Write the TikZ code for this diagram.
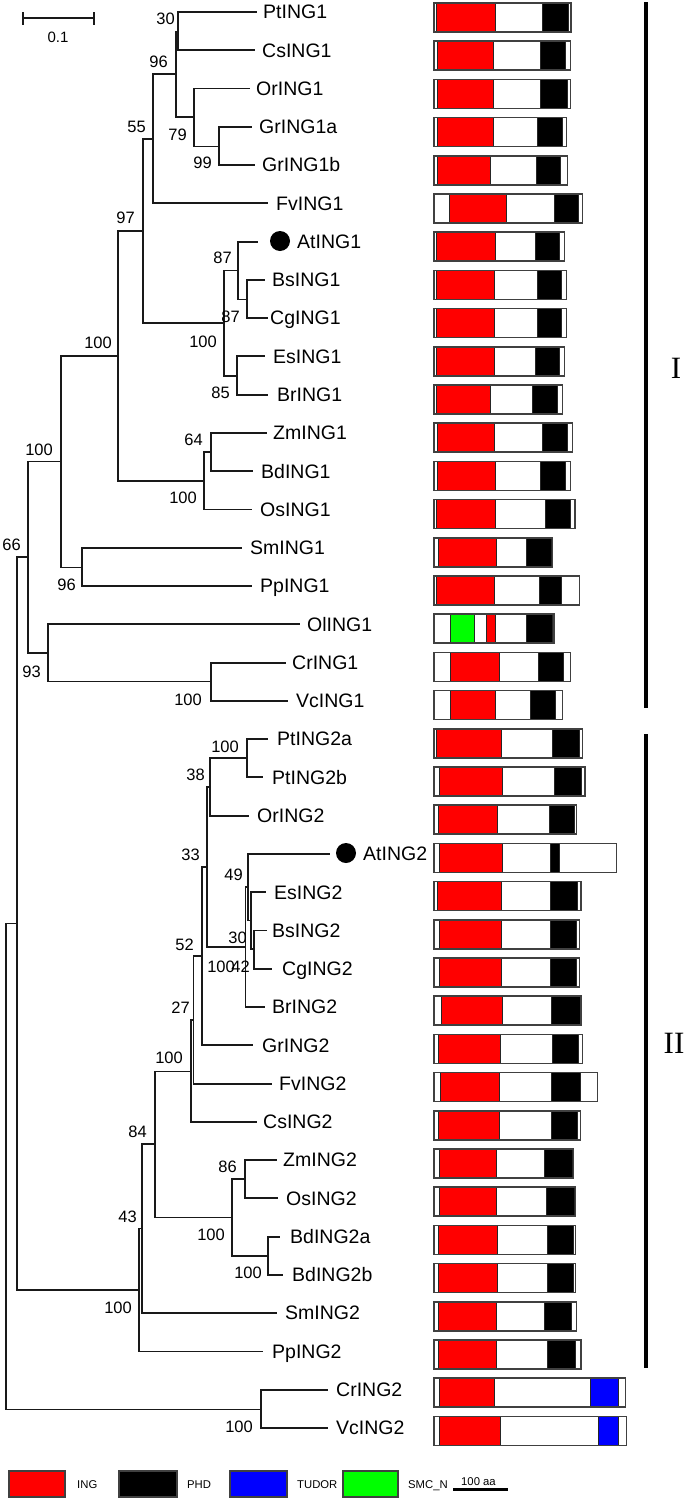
\documentclass[tikz,border=0pt]{standalone}
\usepackage{fontspec}
\setmainfont{Liberation Sans}
\newfontfamily\serifroman{Liberation Serif}
\definecolor{boxline}{gray}{0.25}
\definecolor{segline}{gray}{0.15}
\newcommand{\dbox}[3]{%
  \pgfmathsetmacro\dbyc{17.5+38.2*(#1-1)}%
  \foreach \a/\b/\c in {#3}{\filldraw[fill=\c, draw=segline, line width=0.7pt] (\a,\dbyc-14.5) rectangle (\b,\dbyc+14.5);}%
  \draw[draw=boxline, line width=1.5pt] (434,\dbyc-14.5) rectangle (#2,\dbyc+14.5);%
}
\begin{document}
\begin{tikzpicture}[x=1pt,y=-1pt,
  tree/.style={line width=1.9pt, draw=black!90, line join=miter},
  leaf/.style={anchor=base west, inner sep=0pt, font=\fontsize{19.5}{20}\selectfont},
  bs/.style={anchor=base east, inner sep=0pt, font=\fontsize{16.5}{17}\selectfont},
  legtext/.style={anchor=base west, inner sep=0pt, font=\fontsize{11.3}{12}\selectfont},
  dot/.style={circle, fill=black, minimum size=20pt, inner sep=0pt},
  grp/.style={anchor=base, inner sep=0pt, font=\serifroman\fontsize{31}{32}\selectfont}]
\useasboundingbox (0,0) rectangle (685,1502);
\fill[white] (0,0) rectangle (685,1502);

% leaves
\foreach \i/\tx/\lx/\nm in {
 1/257/263/PtING1, 2/255/262/CsING1, 3/250/256/OrING1, 4/252/259/GrING1a,
 5/255/262/GrING1b, 6/268/276/FvING1, 7/258/297/AtING1, 8/265/272/BsING1,
 9/268/270/CgING1, 10/265/273/EsING1, 11/268/277/BrING1, 12/267/273/ZmING1,
 13/253/261/BdING1, 14/252/260/OsING1, 15/242/250/SmING1, 16/252/260/PpING1,
 17/300/307/OlING1, 18/286/292/CrING1, 19/288/296/VcING1, 20/268/277/PtING2a,
 21/263/272/PtING2b, 22/249/257/OrING2, 23/330/363/AtING2, 24/266/274/EsING2,
 25/267/272/BsING2, 26/272/282/CgING2, 27/265/272/BrING2, 28/253/262/GrING2,
 29/272/279/FvING2, 30/257/263/CsING2, 31/277/283/ZmING2, 32/278/286/OsING2,
 33/280/290/BdING2a, 34/283/292/BdING2b, 35/277/285/SmING2, 36/263/272/PpING2,
 37/328/336/CrING2, 38/328/336/VcING2}{
  \pgfmathsetmacro\ty{12+38.27*(\i-1)}
  \coordinate (t\i) at (\tx,\ty);
  \node[leaf] (l\i) at (\lx,\ty+6.8) {\nm};
}
\node[dot] (d1) at (280,241) {};
\node[dot] (d2) at (346,853) {};

% internal nodes, group I
\coordinate (n30) at (178,31.5);
\coordinate (n96) at (176,74);
\coordinate (n79) at (194,117);
\coordinate (n99) at (219,146.5);
\coordinate (n55) at (153,139);
\coordinate (n87a) at (238,270.5);
\coordinate (n87b) at (247,299.5);
\coordinate (n85) at (237,376);
\coordinate (n100a) at (224,323);
\coordinate (n97) at (143,231);
\coordinate (n64) at (211,452);
\coordinate (n100b) at (204,481);
\coordinate (n100c) at (118,356);
\coordinate (n96b) at (82,567.5);
\coordinate (n100d) at (61,461.5);
\coordinate (n100e) at (211,681.5);
\coordinate (n93) at (48,653);
\coordinate (n66) at (28,557);
\coordinate (nR1) at (17,923.5);
% group II
\coordinate (n100f) at (247,758);
\coordinate (n38) at (210,787);
\coordinate (n49) at (248,887);
\coordinate (nB) at (250.7,920.5);
\coordinate (nC) at (254,949);
\coordinate (n100g) at (245.5,947);
\coordinate (n33) at (207,867);
\coordinate (n52) at (202,956);
\coordinate (n27) at (193.5,1020);
\coordinate (n100h) at (191,1071.5);
\coordinate (n86) at (245,1179);
\coordinate (n100i) at (268,1256);
\coordinate (n100j) at (232,1217.5);
\coordinate (n84) at (155,1144);
\coordinate (n43) at (142,1228.5);
\coordinate (n100k) at (139,1290);
\coordinate (n100l) at (261,1409.5);
\coordinate (root) at (6,1166.5);

% branches
\foreach \p/\c in {n30/t1, n30/t2, n96/n30, n96/n79, n79/t3, n79/n99, n99/t4, n99/t5,
  n55/n96, n55/t6, n87a/t7, n87a/n87b, n87b/t8, n87b/t9, n85/t10, n85/t11,
  n100a/n87a, n100a/n85, n97/n55, n97/n100a, n64/t12, n64/t13, n100b/n64, n100b/t14,
  n100c/n97, n100c/n100b, n96b/t15, n96b/t16, n100d/n100c, n100d/n96b,
  n100e/t18, n100e/t19, n93/t17, n93/n100e, n66/n100d, n66/n93, nR1/n66, nR1/n100k,
  n100f/t20, n100f/t21, n38/n100f, n38/t22, n49/t23, n49/nB, nB/t24, nB/nC,
  nC/t25, nC/t26, n100g/n49, n100g/t27, n33/n38, n33/n100g, n52/n33, n52/t28,
  n27/n52, n27/t29, n100h/n27, n100h/t30, n86/t31, n86/t32, n100i/t33, n100i/t34,
  n100j/n86, n100j/n100i, n84/n100h, n84/n100j, n43/n84, n43/t35, n100k/n43, n100k/t36,
  n100l/t37, n100l/t38, root/nR1, root/n100l}{
  \draw[tree] (\p) |- (\c);
}

% bootstrap values
\foreach \x/\y/\t [count=\k] in {175/24/30, 168/67/96, 187/140/79, 212/168/99, 146/132/55,
  135/223/97, 232/263/87, 240/322/87, 217/347/100, 230/398/85, 112/348/100, 203/445/64,
  197/503/100, 53/455/100, 76/590/96, 21/550/66, 41/677/93, 202/705/100,
  239/752/100, 205/780/38, 200/860/33, 243/880/49, 247/943/30, 235/972/100, 250/972/42,
  194/950/52, 190/1013/27, 183/1063/100, 147/1137/84, 237/1172/86, 225/1240/100,
  262/1278/100, 137/1222/43, 132/1313/100, 253/1432/100}{
  \node[bs] (b\k) at (\x,\y) {\t};
}

% scale bar
\draw[tree] (23,18) -- (94,18);
\draw[tree] (23,12) -- (23,25);
\draw[tree] (94,12) -- (94,25);
\node[anchor=base, inner sep=0pt, font=\fontsize{15}{16}\selectfont] (sbl) at (58,42) {0.1};

% domain boxes
\dbox{1}{571}{436.7/495.7/red, 542.3/568.3/black}
\dbox{2}{570.7}{437.3/493.3/red, 540.7/565.3/black}
\dbox{3}{570.7}{437.3/493.3/red, 540.7/567/black}
\dbox{4}{566.7}{437.3/493.3/red, 537.3/562.3/black}
\dbox{5}{567.3}{437.3/490.7/red, 536/560/black}
\dbox{6}{582.7}{449/506.7/red, 554/578/black}
\dbox{7}{564.7}{436.7/495/red, 535/559/black}
\dbox{8}{566.7}{436.7/494/red, 537.3/561.7/black}
\dbox{9}{566.7}{436.7/494/red, 537.3/561.7/black}
\dbox{10}{564.7}{436.7/494/red, 535/559.3/black}
\dbox{11}{562.7}{436.7/490.7/red, 532.7/557.3/black}
\dbox{12}{572.7}{437.7/494/red, 542.7/567.3/black}
\dbox{13}{570.7}{437.3/495/red, 540.7/565.7/black}
\dbox{14}{575}{436.7/495/red, 545.7/570.7/black}
\dbox{15}{552.7}{438.3/496.7/red, 526.7/551/black}
\dbox{16}{579.3}{436.7/494/red, 539/561.7/black}
\dbox{17}{554}{450.7/474/green, 486/495/red, 526.7/552.7/black}
\dbox{18}{570.7}{450.7/499/red, 538.3/563.3/black}
\dbox{19}{562.7}{450.7/495.7/red, 530/555/black}
\dbox{20}{582.7}{436.7/501.7/red, 552.7/579.3/black}
\dbox{21}{585}{439.3/502.3/red, 554/581.7/black}
\dbox{22}{576.7}{438.3/497.7/red, 549/574.3/black}
\dbox{23}{616.7}{439.3/502.3/red, 550/559.3/black}
\dbox{24}{581}{437.7/501.7/red, 550.7/577.3/black}
\dbox{25}{579.3}{439.3/501/red, 550.7/576.7/black}
\dbox{26}{579.3}{439.3/501/red, 550.7/576.7/black}
\dbox{27}{581}{441.7/502.7/red, 551.7/581/black}
\dbox{28}{582.3}{438.3/500.7/red, 552.3/578.7/black}
\dbox{29}{597.3}{440.7/499.3/red, 551.7/580/black}
\dbox{30}{580.7}{438.3/499.3/red, 551/577.3/black}
\dbox{31}{573.7}{439.3/496.7/red, 544.3/572.7/black}
\dbox{32}{575.3}{439.3/496.7/red, 546.7/574/black}
\dbox{33}{575.7}{438.3/497.7/red, 547/573.3/black}
\dbox{34}{575.7}{438.3/497.7/red, 547/573.3/black}
\dbox{35}{576.7}{438.3/496.7/red, 544.3/571/black}
\dbox{36}{581}{438.3/496.7/red, 547.7/575/black}
\dbox{37}{625.7}{439.3/494/red, 590/618.3/blue}
\dbox{38}{626.7}{439.3/500/red, 598.3/618.3/blue}

% group bars
\draw[line width=3.2pt] (646,2) -- (646,708);
\draw[line width=3.2pt] (646,734) -- (646,1368);
\node[grp] (gI) at (676,378) {I};
\node[grp] (gII) at (674,1053) {II};

% legend
\filldraw[fill=red, draw=boxline, line width=1.2pt] (9,1471) rectangle (65,1497);
\node[legtext] (lg1) at (77,1488) {ING};
\filldraw[fill=black, draw=boxline, line width=1.2pt] (119,1471) rectangle (177,1497);
\node[legtext] (lg2) at (187,1488) {PHD};
\filldraw[fill=blue, draw=boxline, line width=1.2pt] (230,1471) rectangle (287,1497);
\node[legtext] (lg3) at (297,1488) {TUDOR};
\filldraw[fill=green, draw=boxline, line width=1.2pt] (343,1471) rectangle (398,1497);
\node[legtext] (lg4) at (408,1488) {SMC\_N};
\node[legtext] (lg5) at (461,1485.5) {100 aa};
\draw[line width=2.6pt] (453,1489.5) -- (508,1489.5);
\end{tikzpicture}
\end{document}
